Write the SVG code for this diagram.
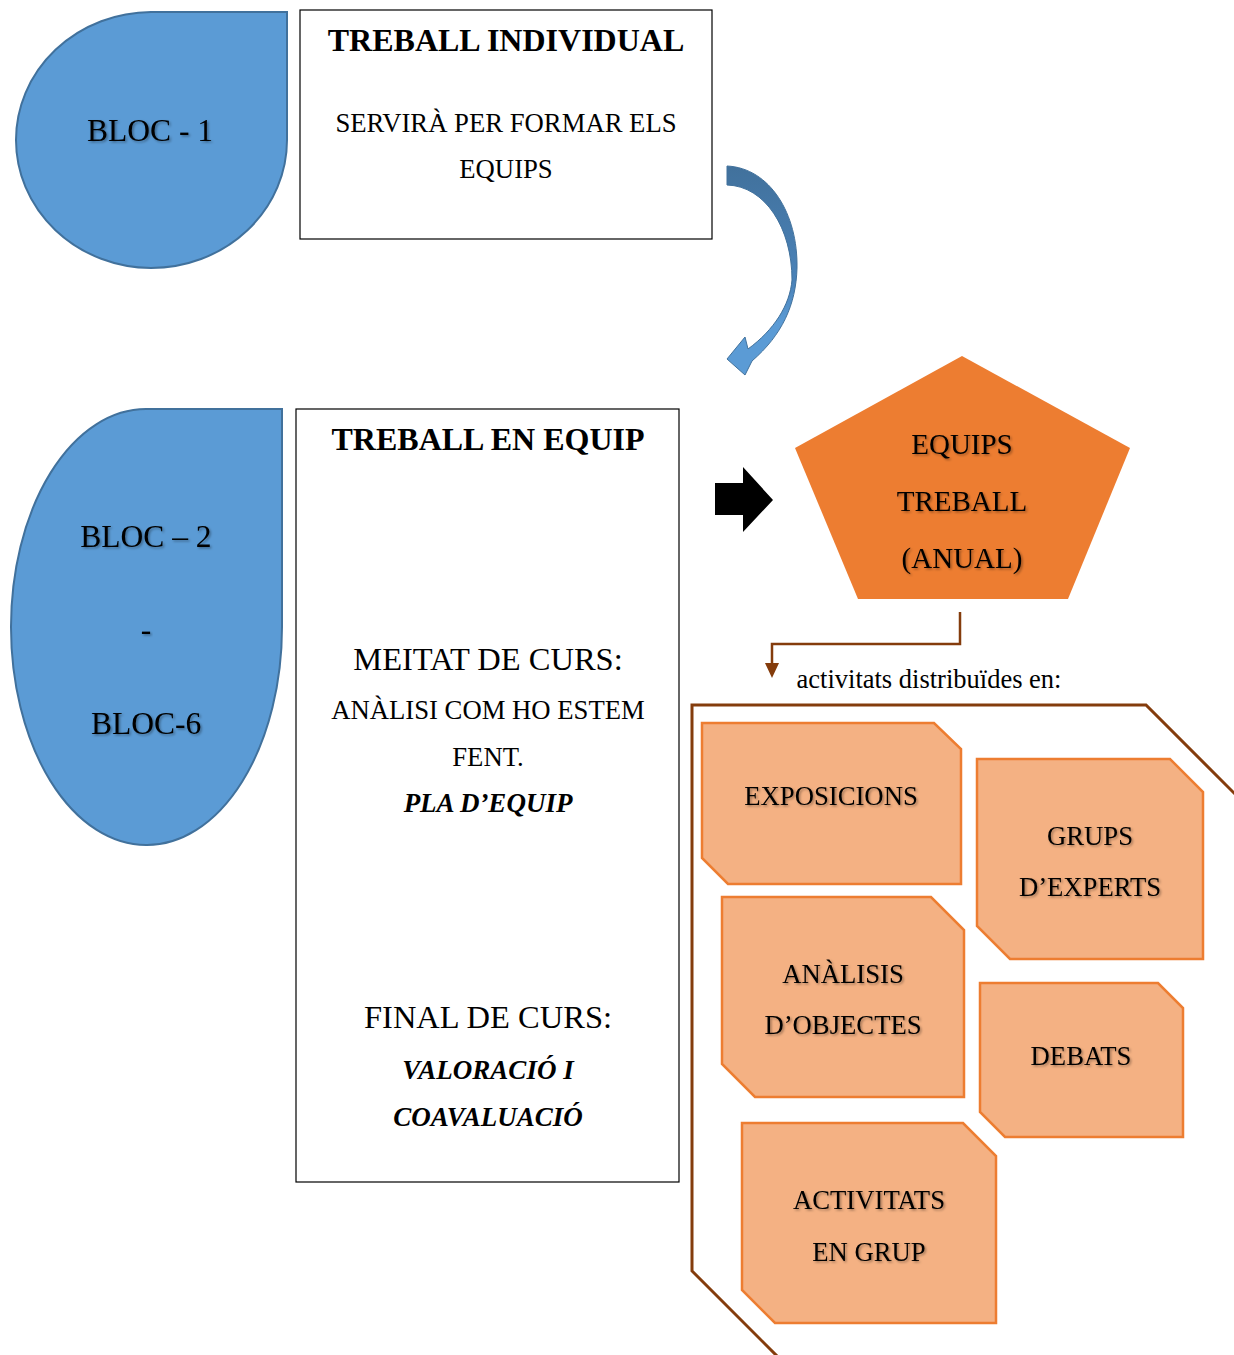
<svg xmlns="http://www.w3.org/2000/svg" width="1234" height="1355" viewBox="0 0 1234 1355">
<style>
text{font-family:"Liberation Serif","Times New Roman",serif;fill:#000;text-anchor:middle}
.b{font-weight:bold}
.bi{font-weight:bold;font-style:italic}
.sh{filter:url(#shadow)}
.box{fill:#fff;stroke:#000;stroke-width:1.2}
.drop{fill:#5B9BD5;stroke:#41719C;stroke-width:2}
.oct{fill:#F4B183;stroke:#ED7D31;stroke-width:2.5}
.brown{fill:none;stroke:#843C0C;stroke-width:3}
</style>
<defs>
<filter id="shadow" x="-10%" y="-30%" width="120%" height="160%">
<feDropShadow dx="1.5" dy="1.5" stdDeviation="1" flood-color="#000" flood-opacity="0.35"/>
</filter>
<linearGradient id="cg" x1="0" y1="0" x2="0" y2="1">
<stop offset="0" stop-color="#41719C"/>
<stop offset="0.55" stop-color="#4A82B8"/>
<stop offset="0.75" stop-color="#5B9BD5"/>
<stop offset="1" stop-color="#5B9BD5"/>
</linearGradient>
</defs>
<rect width="1234" height="1355" fill="#fff"/>

<g id="bloc1">
<path class="drop" d="M151,12 H287 V140 A136,128 0 0 1 151,268 A136,128 0 0 1 16,140 A136,128 0 0 1 151,12 Z"/>
<text class="sh" x="150" y="141" font-size="31.5">BLOC - 1</text>
</g>

<g id="treball-individual">
<rect class="box" x="300" y="10" width="412" height="229"/>
<text class="b" x="506" y="51" font-size="32">TREBALL INDIVIDUAL</text>
<text x="506" y="132" font-size="26.7">SERVIRÀ PER FORMAR ELS</text>
<text x="506" y="178" font-size="26.7">EQUIPS</text>
</g>

<g id="bloc2-6">
<path class="drop" d="M146,409 H282 V627 A135,218 0 0 1 146,845 A135,218 0 0 1 11,627 A135,218 0 0 1 146,409 Z"/>
<text class="sh" x="146" y="547" font-size="31.5">BLOC – 2</text>
<text class="sh" x="146" y="640" font-size="31.5">-</text>
<text class="sh" x="146" y="734" font-size="31.5">BLOC-6</text>
</g>

<g id="treball-equip">
<rect class="box" x="296" y="409" width="383" height="773"/>
<text class="b" x="488" y="450" font-size="32">TREBALL EN EQUIP</text>
<text x="488" y="670" font-size="32.5">MEITAT DE CURS:</text>
<text x="488" y="719" font-size="26.7">ANÀLISI COM HO ESTEM</text>
<text x="488" y="766" font-size="26.7">FENT.</text>
<text class="bi" x="488" y="812" font-size="27">PLA D’EQUIP</text>
<text x="488" y="1028" font-size="32.5">FINAL DE CURS:</text>
<text class="bi" x="488" y="1079" font-size="27">VALORACIÓ I</text>
<text class="bi" x="488" y="1126" font-size="27">COAVALUACIÓ</text>
</g>

<g id="equips-treball">
<polygon points="962,356 1130,448 1068,599 858,599 795,448" fill="#ED7D31"/>
<text class="sh" x="962" y="454" font-size="29">EQUIPS</text>
<text class="sh" x="962" y="511" font-size="29">TREBALL</text>
<text class="sh" x="962" y="568" font-size="29">(ANUAL)</text>
</g>

<g id="label-activitats">
<text x="929" y="688" font-size="26.5">activitats distribuïdes en:</text>
</g>

<g id="exposicions">
<polygon class="oct" points="702,723 934,723 961,749 961,884 728,884 702,858"/>
<text class="sh" x="831" y="805" font-size="26.7">EXPOSICIONS</text>
</g>

<g id="grups-experts">
<polygon class="oct" points="977,759 1170,759 1203,792 1203,959 1010,959 977,926"/>
<text class="sh" x="1090" y="845" font-size="26.7">GRUPS</text>
<text class="sh" x="1090" y="896" font-size="26.7">D’EXPERTS</text>
</g>

<g id="analisis-objectes">
<polygon class="oct" points="722,897 931,897 964,930 964,1097 755,1097 722,1064"/>
<text class="sh" x="843" y="983" font-size="26.7">ANÀLISIS</text>
<text class="sh" x="843" y="1034" font-size="26.7">D’OBJECTES</text>
</g>

<g id="debats">
<polygon class="oct" points="980,983 1158,983 1183,1008 1183,1137 1005,1137 980,1112"/>
<text class="sh" x="1081" y="1065" font-size="26.7">DEBATS</text>
</g>

<g id="activitats-grup">
<polygon class="oct" points="742,1123 963,1123 996,1156 996,1323 775,1323 742,1290"/>
<text class="sh" x="869" y="1209" font-size="26.7">ACTIVITATS</text>
<text class="sh" x="869" y="1261" font-size="26.7">EN GRUP</text>
</g>

<g id="connectors">
<path d="M727,166 C770,168 798,214 797,268 C796,305 782,335 752,361 L745,375 L727,359 L745,337 L748,349 C774,330 790,305 792,280 C792,228 765,186 727,185 Z" fill="url(#cg)" stroke="#41719C" stroke-width="1"/>
<polygon points="715,483 743,483 743,467 773,500 743,532 743,515 715,515" fill="#000"/>
<polyline points="960,612 960,644 772,644 772,664" fill="none" stroke="#843C0C" stroke-width="2.5"/>
<polygon points="765,663 779,663 772,678" fill="#843C0C"/>
<polyline class="brown" points="1236,795 1146,705 692,705 692,1271 778,1357"/>
</g>
</svg>
